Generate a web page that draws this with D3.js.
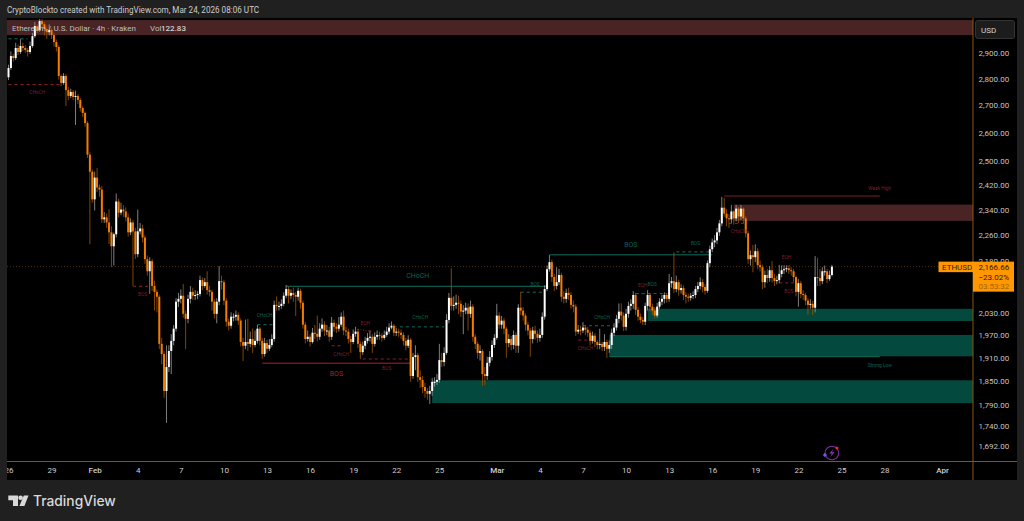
<!DOCTYPE html>
<html>
<head>
<meta charset="utf-8">
<style>
  html, body { margin: 0; background: #202020; }
  svg { display: block; }
  text { font-family: Roboto, "Liberation Sans", sans-serif; }
</style>
<script src="https://cdn.jsdelivr.net/npm/d3@7"></script>
</head>
<body>
<div id="chart"></div>
<script>
// 4h ETH/USD candles. open of a bar = close of the bar before
const firstOpen = 2809;
const closes = [
  2845,2892,2884,2924,2908,2932,2924,2916,2908,2932,
  2972,3013,2997,3034,3021,3001,2988,2997,2976,2948,
  2928,2814,2787,2814,2760,2738,2753,2734,2738,2723,
  2693,2675,2638,2526,2468,2376,2448,2415,2408,2312,
  2318,2302,2271,2228,2265,2369,2333,2343,2337,2318,
  2271,2302,2274,2204,2274,2283,2255,2189,2153,2183,
  2110,2093,2079,1949,1922,1827,1888,1930,1957,1990,
  2065,2073,2082,2031,2017,2073,2093,2082,2084,2087,
  2127,2110,2121,2098,2093,2065,2031,2065,2124,2121,
  2068,2009,1998,2023,2023,2028,2012,1954,1944,1954,
  1949,1962,1946,1957,1990,1957,1922,1951,1936,1946,
  1962,2056,2053,2053,2059,2082,2101,2082,2090,2084,
  2079,2096,2062,2001,1962,1968,1954,1979,1976,1968,
  1990,2001,1985,1985,1968,2006,1995,1990,2001,2023,
  1985,1982,1962,1954,1976,1982,1949,1927,1944,1957,
  1965,1968,1949,1968,1973,1971,1965,1973,1982,1993,
  1998,1979,1982,1979,1973,1957,1944,1960,1865,1914,
  1919,1862,1855,1837,1827,1820,1827,1850,1850,1855,
  1906,1901,1925,2014,2076,2053,2056,2062,2059,2037,
  2040,2048,2031,2051,1968,1949,1925,1930,1870,1865,
  1899,1914,1946,1965,2026,2001,2012,1990,1951,1962,
  1946,1973,1944,2048,2040,2026,2001,1985,1962,1985,
  1976,1965,1973,2023,2101,2159,2180,2136,2110,2121,
  2142,2079,2073,2090,2084,2056,2051,1982,1987,1985,
  1993,1987,1979,1957,1971,1954,1946,1949,1941,1954,
  1936,1946,1979,1993,2017,2037,2026,1995,2031,2053,
  2059,2084,2042,2023,2014,2009,2053,2084,2051,2040,
  2026,2051,2065,2073,2084,2073,2118,2124,2101,2121,
  2098,2104,2084,2079,2076,2082,2084,2101,2110,2121,
  2107,2096,2177,2219,2240,2246,2271,2299,2349,2330,
  2315,2312,2337,2315,2346,2321,2346,2315,2268,2189,
  2201,2195,2213,2171,2165,2121,2142,2133,2156,2133,
  2124,2127,2145,2156,2159,2162,2156,2153,2136,2093,
  2118,2087,2084,2068,2056,2059,2048,2136,2133,2124,
  2153,2153,2130,2142,2166.66
];
const highs = [
  2858,2910,2900,2945,2938,2960,2945,2935,2925,2950,
  2985,3030,3020,3055,3048,3030,3015,3020,3005,2985,
  2958,2935,2820,2825,2822,2772,2765,2760,2758,2745,
  2730,2700,2680,2645,2535,2475,2468,2480,2425,2420,
  2335,2330,2345,2290,2270,2395,2378,2365,2358,2350,
  2330,2315,2310,2285,2343,2300,2295,2262,2200,2195,
  2190,2125,2100,2085,1965,1930,1945,1945,1975,2000,
  2075,2090,2100,2116,2040,2085,2110,2105,2098,2095,
  2140,2135,2133,2153,2110,2100,2072,2075,2168,2140,
  2128,2075,2018,2035,2032,2040,2035,2018,1965,2015,
  2017,1982,1990,1985,2000,1995,1965,1965,1960,1962,
  1975,2068,2080,2065,2072,2092,2113,2108,2100,2105,
  2092,2105,2102,2068,2008,1985,1975,1992,2000,2026,
  2005,2018,2010,2000,1995,2022,2015,2005,2022,2035,
  2040,1995,1990,1970,1988,1995,1990,1955,1955,1968,
  1978,1985,1975,1980,1985,1982,1978,1985,1995,2005,
  2010,2003,1992,1990,1988,1980,1965,1972,1965,1925,
  1945,1925,1880,1865,1848,1835,1840,1860,1862,1870,
  1949,1925,1940,2030,2090,2162,2080,2085,2082,2068,
  2055,2062,2060,2068,2058,1975,1955,1945,1935,1888,
  1915,1930,1958,1975,2059,2035,2025,2020,1995,1975,
  1970,1985,1980,2058,2093,2050,2032,2008,1992,1995,
  1998,1985,1990,2035,2112,2170,2201,2188,2145,2165,
  2160,2148,2095,2102,2105,2092,2068,2058,2000,1998,
  2008,2000,1995,1985,1982,1978,1960,1990,1955,1975,
  1960,1958,1990,2005,2028,2060,2060,2035,2045,2065,
  2072,2095,2090,2050,2032,2022,2062,2098,2090,2060,
  2050,2062,2075,2085,2092,2090,2145,2136,2210,2140,
  2128,2115,2112,2092,2088,2090,2095,2110,2122,2135,
  2130,2115,2185,2230,2252,2262,2285,2310,2384,2381,
  2345,2328,2358,2340,2358,2352,2358,2350,2322,2275,
  2215,2232,2234,2222,2185,2172,2155,2160,2168,2183,
  2145,2140,2172,2170,2170,2170,2170,2165,2160,2140,
  2130,2125,2098,2090,2075,2072,2068,2198,2193,2160,
  2165,2170,2160,2155,2172
];
const lows = [
  2798,2838,2870,2876,2895,2900,2912,2905,2890,2900,
  2925,2965,2985,2990,3005,2975,2960,2975,2960,2930,
  2910,2800,2775,2780,2700,2722,2730,2722,2631,2708,
  2680,2660,2625,2515,2234,2365,2340,2400,2385,2300,
  2300,2285,2235,2165,2170,2255,2318,2325,2320,2305,
  2258,2262,2110,2190,2195,2265,2240,2175,2140,2087,
  2095,2040,2035,1935,1895,1810,1749,1875,1870,1945,
  1982,2050,2060,2020,1935,2005,2060,2070,2070,2072,
  2080,2098,2105,2085,2080,2040,2018,2005,2055,2100,
  2055,1995,1985,1990,2010,2012,2000,1942,1904,1935,
  1930,1940,1925,1940,1950,1945,1909,1915,1925,1930,
  1940,1955,2040,2040,2045,2052,2075,2060,2072,2065,
  2025,2068,2045,1990,1950,1955,1942,1950,1962,1955,
  1960,1982,1970,1972,1955,1960,1982,1978,1982,1995,
  1972,1970,1950,1925,1948,1968,1938,1909,1920,1935,
  1950,1955,1925,1942,1960,1960,1955,1960,1968,1975,
  1988,1970,1970,1968,1962,1945,1932,1938,1850,1858,
  1880,1850,1835,1822,1810,1805,1795,1815,1838,1842,
  1848,1888,1890,1920,2005,2040,2040,2045,2030,2022,
  1975,2030,1985,2020,1955,1935,1910,1905,1840,1842,
  1855,1890,1905,1938,1960,1990,1990,1975,1912,1940,
  1932,1935,1925,1925,2028,2012,1985,1972,1915,1950,
  1960,1952,1955,1965,2015,2095,2152,2122,2095,2100,
  2112,2065,2060,2062,2070,2045,2035,1970,1975,1972,
  1978,1972,1968,1945,1950,1940,1935,1935,1930,1930,
  1912,1925,1935,1970,1985,2005,2012,1983,1985,2020,
  2040,2045,2028,2012,2005,2000,2000,2040,2038,2028,
  2018,2020,2045,2055,2060,2062,2065,2105,2090,2092,
  2082,2088,2070,2060,2065,2068,2072,2075,2092,2100,
  2092,2085,2090,2165,2210,2225,2235,2260,2290,2320,
  2290,2285,2300,2295,2305,2300,2310,2300,2255,2175,
  2170,2150,2180,2159,2152,2101,2105,2118,2122,2120,
  2110,2115,2118,2135,2145,2150,2145,2140,2122,2080,
  2051,2075,2070,2055,2028,2045,2028,2035,2110,2110,
  2115,2140,2118,2125,2138
];

const priceTicks = [2900,2800,2700,2600,2500,2420,2340,2260,2180,2030,1970,1910,1850,1790,1740,1692];
const timeTicks = ["2026-01-26","2026-01-29","2026-02-01","2026-02-04","2026-02-07","2026-02-10","2026-02-13",
  "2026-02-16","2026-02-19","2026-02-22","2026-02-25","2026-03-01","2026-03-04","2026-03-07","2026-03-10",
  "2026-03-13","2026-03-16","2026-03-19","2026-03-22","2026-03-25","2026-03-28","2026-04-01"];
const timeLabels = ["26","29","Feb","4","7","10","13","16","19","22","25","Mar","4","7","10","13","16","19","22","25","28","Apr"];
const lastPrice = 2166.66;

// zones: [first bar, top price, bottom price], run on to the price axis
const redZones = [[-5,3038,2976],[303,2359,2307]];
const greenZones = [[267,2045,2011],[251,1973,1916],[177,1854,1797]];

// structure lines: [from bar, to bar, price]
const greenSolid = [[116,225,2109],[226,294,2202],[251,364,1915]];
const greenDash = [[0,8,2961],[104,111,2001],[214,224,2092],[161,182,1995],[240,253,1998],[262,275,2088],[279,294,2211]];
const bosLine = [[106,168,1898]];
const weakHighLine = [[299,364,2387]];
const redDash = [[0,22,2781],[52,59,2109],[148,168,1909],[135,140,1944],[238,244,1959],[262,267,2088],[301,308,2299],[322,329,2119]];
const redDots = [[146,152,1988,1983],[323,327,2169,2169]];

// labels: [text, bar, price]
const greenBig = [["CHoCH",171,2139],["BOS",260,2234]];
const redBig = [["BOS",137,1871]];
const greenSmall = [["CHoCH",107,2028],["BOS",220,2116],["CHoCH",172,2020],["CHoCH",248,2020],["BOS",269,2115],["BOS",287,2237],["Strong Low",364,1893]];
const redSmall = [["CHoCH",12,2753],["BOS",56,2087],["BOS",158,1886],["CHoCH",139,1922],["EQH",149,2006],["CHoCH",241,1937],["EQH",265,2113],["CHoCH",305,2274],["EQH",325,2195],["BOS",326,2095],["Weak High",364,2413]];

const width = 1024, height = 521;
const plot = { left: 7, right: 973, top: 19, bottom: 461.5, panelRight: 1017, panelBottom: 480 };
const orange = "#f57c00", axisLine = "#86560f";
const teal = "#0f6f5e", tealText = "#0c6353", red = "#8c2028", redText = "#7f1f28";

const svg = d3.select("#chart").append("svg").attr("width", width).attr("height", height);

svg.append("rect").attr("width", width).attr("height", height).attr("fill", "#202020");
svg.append("rect").attr("x", plot.left).attr("y", 18)
  .attr("width", plot.panelRight - plot.left).attr("height", plot.panelBottom - 18).attr("fill", "#000");

svg.append("clipPath").attr("id", "plot-clip").append("rect")
  .attr("x", plot.left).attr("y", plot.top)
  .attr("width", plot.right - plot.left).attr("height", plot.bottom - plot.top);

// -----------------------------
// SCALES
// -----------------------------
const parseDay = d3.utcParse("%Y-%m-%d");
const x = d3.scaleUtc().domain([parseDay("2026-01-26"), parseDay("2026-04-01")]).range([8.5, 942]);
const y = d3.scaleLog().domain([1692, 2900]).range([447, 54]);
const barTime = i => new Date(+parseDay("2026-01-26") + i * 4 * 3600 * 1000);
const barX = i => x(barTime(i));

const g = svg.append("g").attr("clip-path", "url(#plot-clip)");

// last price line under everything
g.append("line").attr("x1", plot.left).attr("x2", 938).attr("y1", y(lastPrice)).attr("y2", y(lastPrice))
  .attr("stroke", "#5a3810").attr("stroke-width", 0.8).attr("stroke-dasharray", "1 2");

// -----------------------------
// ZONES
// -----------------------------
function drawZones(rows, color) {
  g.selectAll(null).data(rows).enter().append("rect")
    .attr("x", d => barX(d[0]))
    .attr("width", d => plot.right - barX(d[0]))
    .attr("y", d => y(d[1]))
    .attr("height", d => y(d[2]) - y(d[1]))
    .attr("fill", color);
}
drawZones(redZones, "#4a2425");
drawZones(greenZones, "#04493e");

// -----------------------------
// STRUCTURE LINES
// -----------------------------
function drawLines(rows, color, dash) {
  g.selectAll(null).data(rows).enter().append("line")
    .attr("x1", d => barX(d[0])).attr("x2", d => barX(d[1]))
    .attr("y1", d => y(d[2])).attr("y2", d => y(d.length > 3 ? d[3] : d[2]))
    .attr("stroke", color).attr("stroke-width", 1)
    .attr("stroke-dasharray", dash);
}
drawLines(greenSolid, teal, null);
drawLines(bosLine, "#ab2030", null);
drawLines(weakHighLine, "#7c2022", null);
drawLines(greenDash, teal, "3 3");
drawLines(redDash, red, "3 3");
drawLines(redDots, red, "1 1.5");

// -----------------------------
// CANDLES
// -----------------------------
const candles = closes.map((c, i) => ({
  i, close: c, high: highs[i], low: lows[i], open: i ? closes[i - 1] : firstOpen
}));
const isUp = d => d.close >= d.open;

g.selectAll(".wick").data(candles).enter().append("line")
  .attr("class", "wick")
  .attr("x1", d => barX(d.i)).attr("x2", d => barX(d.i))
  .attr("y1", d => y(d.high)).attr("y2", d => y(d.low))
  .attr("stroke", d => isUp(d) ? "#a0a0a0" : "#a05606")
  .attr("stroke-width", 0.8);

g.selectAll(".body").data(candles).enter().append("rect")
  .attr("class", "body")
  .attr("x", d => barX(d.i) - 1)
  .attr("width", 2)
  .attr("y", d => Math.min(y(d.open), y(d.close)))
  .attr("height", d => Math.max(1, Math.abs(y(d.open) - y(d.close))))
  .attr("fill", d => isUp(d) ? "#fff" : orange);

// -----------------------------
// ANNOTATION TEXT
// -----------------------------
function drawLabels(rows, color, size) {
  g.selectAll(null).data(rows).enter().append("text")
    .attr("x", d => barX(d[1])).attr("y", d => y(d[2]))
    .attr("dy", "0.35em").attr("text-anchor", "middle")
    .attr("font-size", size).attr("fill", color)
    .text(d => d[0]);
}
drawLabels(greenBig, tealText, 7);
drawLabels(redBig, "#a0222c", 7);
drawLabels(greenSmall, tealText, 4.8);
drawLabels(redSmall, redText, 4.8);

// -----------------------------
// AXES
// -----------------------------
const yAxis = svg.append("g").attr("transform", `translate(${plot.right},0)`)
  .call(d3.axisRight(y).tickValues(priceTicks).tickSize(0).tickPadding(5.5).tickFormat(d3.format(",.2f")));
yAxis.select(".domain").remove();
yAxis.selectAll("text").attr("fill", "#c4c4c4").attr("font-size", 8).attr("dy", "0.2em")
  .style("font-family", "Roboto, sans-serif");

const xAxis = svg.append("g").attr("transform", `translate(0,${plot.bottom})`)
  .call(d3.axisBottom(x).tickValues(timeTicks.map(parseDay)).tickSize(0).tickPadding(6)
    .tickFormat((d, i) => timeLabels[i]));
xAxis.select(".domain").remove();
xAxis.selectAll("text").attr("fill", "#cfcfcf").attr("font-size", 8).style("font-family", "Roboto, sans-serif")
  .attr("font-weight", (d, i) => isNaN(+timeLabels[i]) ? 500 : 400);
// first label is cut by the pane edge
svg.append("rect").attr("x", 0).attr("y", plot.bottom + 1).attr("width", plot.left)
  .attr("height", plot.panelBottom - plot.bottom).attr("fill", "#202020");

svg.append("line").attr("x1", plot.left).attr("x2", plot.panelRight).attr("y1", plot.bottom).attr("y2", plot.bottom)
  .attr("stroke", axisLine);
svg.append("line").attr("x1", plot.right).attr("x2", plot.right).attr("y1", 18).attr("y2", plot.panelBottom)
  .attr("stroke", axisLine);

// USD box
svg.append("rect").attr("x", 975.5).attr("y", 20.5).attr("width", 39).attr("height", 18).attr("rx", 2.5)
  .attr("fill", "#1c1c1c").attr("stroke", "#333");
svg.append("text").attr("x", 981).attr("y", 33).attr("font-size", 8).attr("fill", "#d4d4d4").text("USD");

// -----------------------------
// PRICE TAG
// -----------------------------
const tagY = y(lastPrice);
svg.append("rect").attr("x", 938.5).attr("y", tagY - 5).attr("width", 35).attr("height", 10.5).attr("fill", "#ff9800");
svg.append("rect").attr("x", 973).attr("y", tagY - 5).attr("width", 41).attr("height", 30).attr("fill", "#ff9800");
const tagText = [["ETHUSD", 942, 3, "#3a2300"], ["2,166.66", 978.5, 3, "#2a1900"], ["\u221223.02%", 978.5, 13, "#2a1900"], ["03:53:32", 978.5, 22.5, "#a0640c"]];
svg.selectAll(null).data(tagText).enter().append("text")
  .attr("x", d => d[1]).attr("y", d => tagY + d[2]).attr("font-size", 8).attr("fill", d => d[3]).text(d => d[0]);

// -----------------------------
// HEADER, LEGEND, FOOTER
// -----------------------------
svg.append("text").attr("x", 7).attr("y", 13).attr("font-size", 8.15).attr("font-weight", 400).attr("fill", "#cccccc")
  .text("CryptoBlockto created with TradingView.com, Mar 24, 2026 08:06 UTC");
svg.append("text").attr("x", 12).attr("y", 31).attr("font-size", 8).attr("fill", "#bdbdbd")
  .text("Ethereum / U.S. Dollar \u00b7 4h \u00b7 Kraken");
svg.append("text").attr("x", 150).attr("y", 31).attr("font-size", 8).attr("fill", "#bdbdbd").text("Vol");
svg.append("text").attr("x", 161).attr("y", 31).attr("font-size", 8).attr("font-weight", 500).attr("fill", "#d0d0d0").text("122.83");

// TradingView mark
const logo = svg.append("g").attr("fill", "#d9d9d9");
logo.append("path").attr("d", "M8.3 495.5H18V506H13V500.2H8.3Z");
logo.append("circle").attr("cx", 20.6).attr("cy", 497.8).attr("r", 2.3);
logo.append("path").attr("d", "M23.8 495.5H28.5L24.4 506H19.4Z");
svg.append("text").attr("x", 33).attr("y", 506).attr("font-size", 13.8).attr("font-weight", 500)
  .attr("fill", "#d9d9d9").style("font-family", "Inter, sans-serif").text("TradingView");

// news badge near the end of the time axis
const badge = svg.append("g").attr("transform", `translate(${barX(344)},453)`);
badge.append("circle").attr("r", 6.8).attr("fill", "none").attr("stroke", "#7a2fa0").attr("stroke-width", 1.1);
badge.append("path").attr("d", "M1.5 -4L-2.5 0.5H0L-1.5 4L2.5 -0.8H0Z").attr("fill", "#8e3ab8");
badge.append("circle").attr("cx", 5).attr("cy", -5).attr("r", 1.6).attr("fill", "#e5262c");
badge.append("path").attr("d", "M-7 -1.8V1.8M-8.8 0H-5.2").attr("stroke", "#6a5cf0").attr("stroke-width", 1.6).attr("transform", "translate(0,2)");
</script>
</body>
</html>
